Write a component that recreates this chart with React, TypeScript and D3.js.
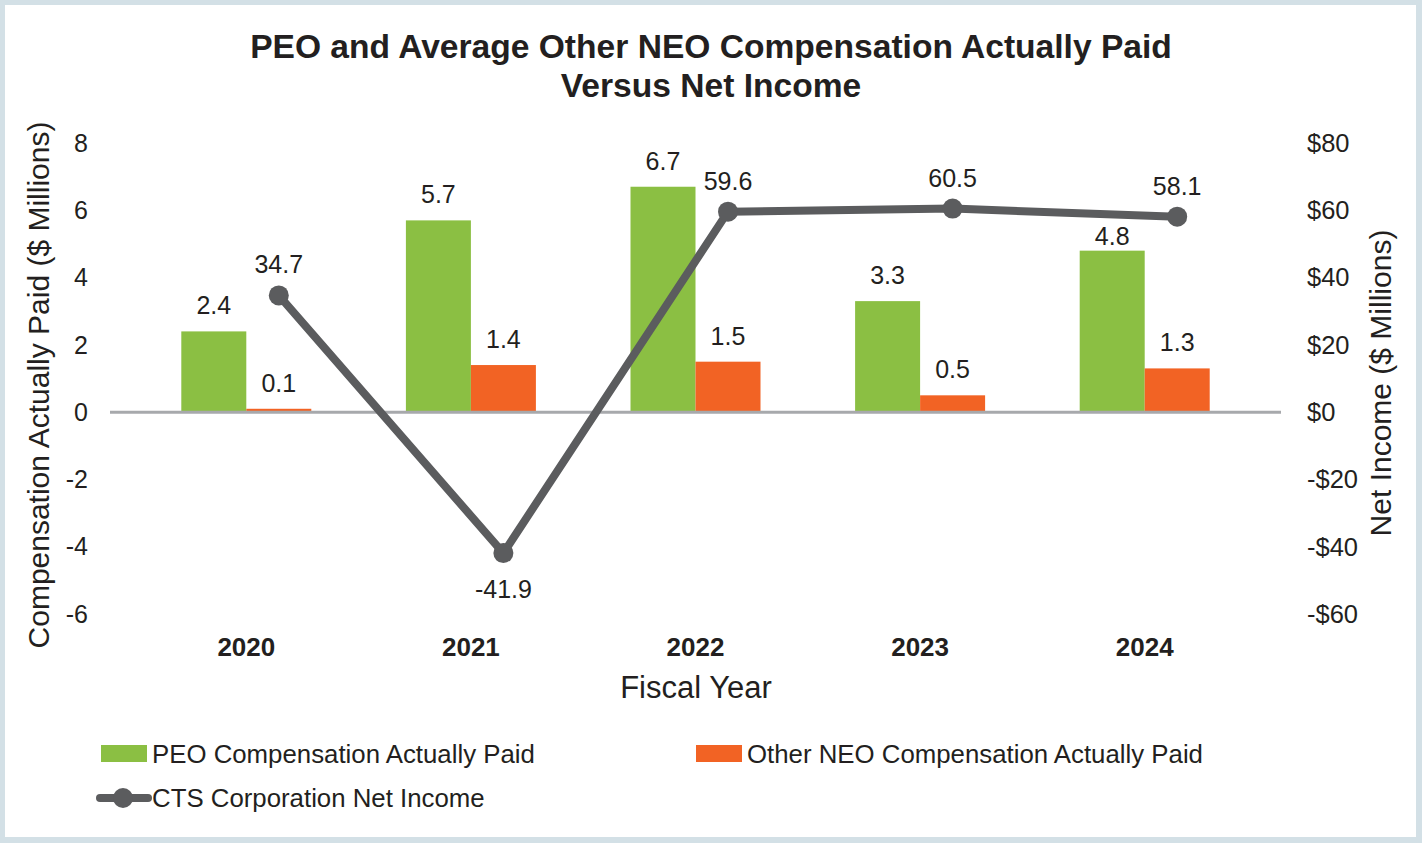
import { useEffect, useRef } from "react";
import * as d3 from "d3";

const years = ["2020", "2021", "2022", "2023", "2024"];
const peoPaid = [2.4, 5.7, 6.7, 3.3, 4.8];
const neoPaid = [0.1, 1.4, 1.5, 0.5, 1.3];
const netIncome = [34.7, -41.9, 59.6, 60.5, 58.1];
const leftTicks = [8, 6, 4, 2, 0, -2, -4, -6];
const rightTicks = [80, 60, 40, 20, 0, -20, -40, -60];

const W = 1422;
const H = 843;
const FONT = "'Liberation Sans', Arial, sans-serif";
const TEXT = "#231f20";
const GREEN = "#8bbf43";
const ORANGE = "#f26324";
const LINE = "#5b5c5e";

const App: React.FC = () => {
  const ref = useRef<SVGSVGElement>(null);

  useEffect(() => {
    const svg = d3.select(ref.current);
    svg.selectAll("*").remove();

    // frame
    svg.append("rect").attr("width", W).attr("height", H).attr("fill", "#d3e0e6");
    svg.append("rect").attr("x", 5).attr("y", 5).attr("width", 1411).attr("height", 832).attr("fill", "#fff");

    // title
    const title = svg
      .append("text")
      .attr("text-anchor", "middle")
      .attr("font-family", FONT)
      .attr("font-weight", "bold")
      .attr("font-size", 33.6)
      .attr("fill", TEXT);
    title.append("tspan").attr("x", 711).attr("y", 58).text("PEO and Average Other NEO Compensation Actually Paid");
    title.append("tspan").attr("x", 711).attr("y", 97).text("Versus Net Income");

    const x = d3.scaleBand().domain(years).range([134, 1257]);
    const bw = 65;
    const yL = d3.scaleLinear().domain([-6, 8]).range([614, 143]);
    const yR = d3.scaleLinear().domain([-60, 80]).range([614, 143]);

    // left axis ticks
    svg
      .append("g")
      .selectAll("text")
      .data(leftTicks)
      .enter()
      .append("text")
      .attr("x", 88)
      .attr("y", (d) => yL(d))
      .attr("dy", "0.35em")
      .attr("text-anchor", "end")
      .attr("font-family", FONT)
      .attr("font-size", 25)
      .attr("fill", TEXT)
      .text((d) => d);

    // right axis ticks
    svg
      .append("g")
      .selectAll("text")
      .data(rightTicks)
      .enter()
      .append("text")
      .attr("x", 1307)
      .attr("y", (d) => yR(d))
      .attr("dy", "0.35em")
      .attr("text-anchor", "start")
      .attr("font-family", FONT)
      .attr("font-size", 25.5)
      .attr("fill", TEXT)
      .text((d) => (d < 0 ? `-$${-d}` : `$${d}`));

    // axis titles
    svg
      .append("text")
      .attr("transform", `translate(49,385) rotate(-90)`)
      .attr("text-anchor", "middle")
      .attr("font-family", FONT)
      .attr("font-size", 30)
      .attr("fill", TEXT)
      .text("Compensation Actually Paid ($ Millions)");
    svg
      .append("text")
      .attr("transform", `translate(1391,383) rotate(-90)`)
      .attr("text-anchor", "middle")
      .attr("font-family", FONT)
      .attr("font-size", 30)
      .attr("fill", TEXT)
      .text("Net Income ($ Millions)");

    // bars
    const cx = (d: string) => x(d)! + x.bandwidth() / 2;
    svg
      .append("g")
      .selectAll("rect")
      .data(years)
      .enter()
      .append("rect")
      .attr("x", (d) => cx(d) - bw)
      .attr("y", (_, i) => yL(peoPaid[i]))
      .attr("width", bw)
      .attr("height", (_, i) => yL(0) - yL(peoPaid[i]))
      .attr("fill", GREEN);
    svg
      .append("g")
      .selectAll("rect")
      .data(years)
      .enter()
      .append("rect")
      .attr("x", (d) => cx(d))
      .attr("y", (_, i) => yL(neoPaid[i]))
      .attr("width", bw)
      .attr("height", (_, i) => yL(0) - yL(neoPaid[i]))
      .attr("fill", ORANGE);

    // zero line
    svg
      .append("line")
      .attr("x1", 110)
      .attr("x2", 1281)
      .attr("y1", yL(0))
      .attr("y2", yL(0))
      .attr("stroke", "#a7a9ac")
      .attr("stroke-width", 3);

    // bar labels
    const lbl = (g: any) =>
      g
        .attr("text-anchor", "middle")
        .attr("font-family", FONT)
        .attr("font-size", 25)
        .attr("fill", TEXT);
    svg
      .append("g")
      .selectAll("text")
      .data(years)
      .enter()
      .append("text")
      .call(lbl)
      .attr("x", (d) => cx(d) - bw / 2)
      // the last label sits tight on its bar, under the line marker
      .attr("y", (_, i) => yL(peoPaid[i]) - (i === years.length - 1 ? 6 : 17))
      .text((_, i) => peoPaid[i].toFixed(1));
    svg
      .append("g")
      .selectAll("text")
      .data(years)
      .enter()
      .append("text")
      .call(lbl)
      .attr("x", (d) => cx(d) + bw / 2)
      .attr("y", (_, i) => yL(neoPaid[i]) - 17)
      .text((_, i) => neoPaid[i].toFixed(1));

    // net income line
    const px = (i: number) => cx(years[i]) + bw / 2;
    const line = d3
      .line<number>()
      .x((_, i) => px(i))
      .y((d) => yR(d));
    svg
      .append("path")
      .attr("d", line(netIncome))
      .attr("fill", "none")
      .attr("stroke", LINE)
      .attr("stroke-width", 8)
      .attr("stroke-linejoin", "round");
    svg
      .append("g")
      .selectAll("circle")
      .data(netIncome)
      .enter()
      .append("circle")
      .attr("cx", (_, i) => px(i))
      .attr("cy", (d) => yR(d))
      .attr("r", 10)
      .attr("fill", LINE);
    svg
      .append("g")
      .selectAll("text")
      .data(netIncome)
      .enter()
      .append("text")
      .call(lbl)
      .attr("x", (_, i) => px(i))
      .attr("y", (d) => (d < 0 ? yR(d) + 45 : yR(d) - 22))
      .text((d) => d.toFixed(1));

    // category labels
    svg
      .append("g")
      .selectAll("text")
      .data(years)
      .enter()
      .append("text")
      .call(lbl)
      .attr("font-size", 26)
      .attr("font-weight", "bold")
      .attr("x", (d) => cx(d))
      .attr("y", 656)
      .text((d) => d);

    svg
      .append("text")
      .attr("x", 696)
      .attr("y", 698)
      .attr("text-anchor", "middle")
      .attr("font-family", FONT)
      .attr("font-size", 31)
      .attr("fill", TEXT)
      .text("Fiscal Year");

    // legend
    const leg = svg.append("g").attr("font-family", FONT).attr("font-size", 25.8).attr("fill", TEXT);
    leg.append("rect").attr("x", 101).attr("y", 745).attr("width", 46).attr("height", 17).attr("fill", GREEN);
    leg.append("text").attr("x", 152).attr("y", 763).text("PEO Compensation Actually Paid");
    leg.append("rect").attr("x", 696).attr("y", 745).attr("width", 46).attr("height", 17).attr("fill", ORANGE);
    leg.append("text").attr("x", 747).attr("y", 763).text("Other NEO Compensation Actually Paid");
    leg
      .append("line")
      .attr("x1", 100)
      .attr("x2", 148)
      .attr("y1", 798)
      .attr("y2", 798)
      .attr("stroke", LINE)
      .attr("stroke-width", 8)
      .attr("stroke-linecap", "round");
    leg.append("circle").attr("cx", 123).attr("cy", 798).attr("r", 10).attr("fill", LINE);
    leg.append("text").attr("x", 152).attr("y", 807).text("CTS Corporation Net Income");
  }, []);

  return (
    <svg
      ref={ref}
      width={W}
      height={H}
      style={{ position: "absolute", top: 0, left: 0, display: "block" }}
    />
  );
};

export default App;
